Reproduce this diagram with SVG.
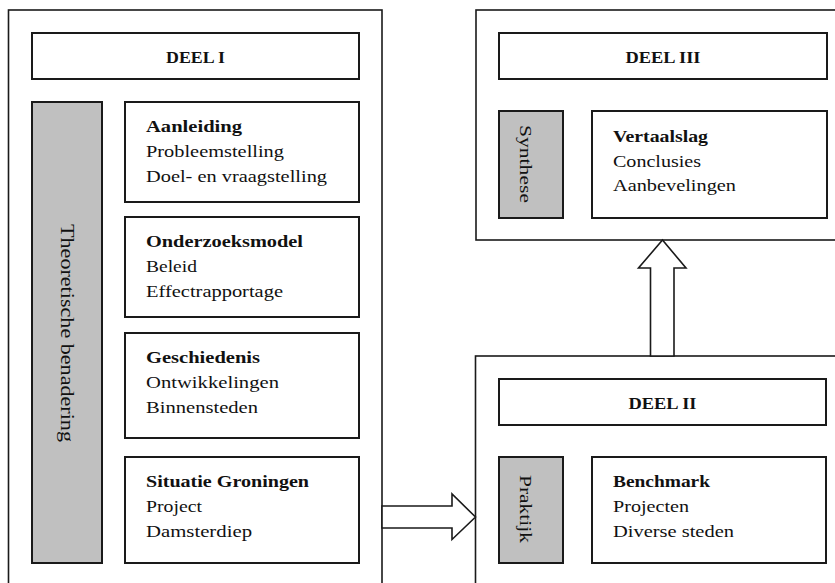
<svg xmlns="http://www.w3.org/2000/svg" width="835" height="583" viewBox="0 0 835 583">
<style>
.panel{fill:#fff;stroke:#1a1a1a;stroke-width:1.6}
.box{fill:#fff;stroke:#1a1a1a;stroke-width:2}
.gray{fill:#c0c0c0;stroke:#1a1a1a;stroke-width:2}
.arrow{fill:#fff;stroke:#1a1a1a;stroke-width:1.6;stroke-linejoin:miter}
text{font-family:"Liberation Serif","Times New Roman",serif;font-size:17px;fill:#111}
.b{font-weight:bold}
.c{text-anchor:middle}
</style>
<rect width="835" height="583" fill="#fff"/>
<g id="deel1">
<rect class="panel" x="8.5" y="10" width="373.5" height="600"/>
<g id="deel1-title"><rect class="box" x="32" y="33" width="327" height="46"/><text class="b c" x="195.5" y="63" textLength="59" lengthAdjust="spacingAndGlyphs">DEEL I</text></g>
<g id="theoretische"><rect class="gray" x="32" y="102" width="70" height="461"/><text class="c" transform="translate(61,333) rotate(90)" x="0" y="0" style="font-size:19px" textLength="218" lengthAdjust="spacingAndGlyphs">Theoretische benadering</text></g>
<g id="aanleiding"><rect class="box" x="125" y="102" width="234" height="100"/>
<text class="b" x="146" y="132" textLength="96" lengthAdjust="spacingAndGlyphs">Aanleiding</text>
<text x="146" y="157" textLength="138" lengthAdjust="spacingAndGlyphs">Probleemstelling</text>
<text x="146" y="182" textLength="181" lengthAdjust="spacingAndGlyphs">Doel- en vraagstelling</text></g>
<g id="onderzoeksmodel"><rect class="box" x="125" y="217" width="234" height="100"/>
<text class="b" x="146" y="247" textLength="157" lengthAdjust="spacingAndGlyphs">Onderzoeksmodel</text>
<text x="146" y="272" textLength="51" lengthAdjust="spacingAndGlyphs">Beleid</text>
<text x="146" y="297" textLength="137" lengthAdjust="spacingAndGlyphs">Effectrapportage</text></g>
<g id="geschiedenis"><rect class="box" x="125" y="333" width="234" height="105"/>
<text class="b" x="146" y="363" textLength="114" lengthAdjust="spacingAndGlyphs">Geschiedenis</text>
<text x="146" y="388" textLength="133" lengthAdjust="spacingAndGlyphs">Ontwikkelingen</text>
<text x="146" y="413" textLength="112" lengthAdjust="spacingAndGlyphs">Binnensteden</text></g>
<g id="situatie"><rect class="box" x="125" y="457" width="234" height="106"/>
<text class="b" x="146" y="487" textLength="163" lengthAdjust="spacingAndGlyphs">Situatie Groningen</text>
<text x="146" y="512" textLength="56" lengthAdjust="spacingAndGlyphs">Project</text>
<text x="146" y="536.5" textLength="106" lengthAdjust="spacingAndGlyphs">Damsterdiep</text></g>
</g>
<g id="deel3">
<rect class="panel" x="476" y="10" width="400" height="230"/>
<g id="deel3-title"><rect class="box" x="499" y="33" width="328" height="46"/><text class="b c" x="663" y="63" textLength="75" lengthAdjust="spacingAndGlyphs">DEEL III</text></g>
<g id="synthese"><rect class="gray" x="499" y="111" width="64" height="107"/><text class="c" transform="translate(520,164) rotate(90)" x="0" y="0" textLength="78" lengthAdjust="spacingAndGlyphs">Synthese</text></g>
<g id="vertaalslag"><rect class="box" x="592" y="111" width="235" height="107"/>
<text class="b" x="613" y="141.5" textLength="95" lengthAdjust="spacingAndGlyphs">Vertaalslag</text>
<text x="613" y="166.5" textLength="88" lengthAdjust="spacingAndGlyphs">Conclusies</text>
<text x="613" y="191" textLength="123" lengthAdjust="spacingAndGlyphs">Aanbevelingen</text></g>
</g>
<g id="deel2">
<rect class="panel" x="475.5" y="356" width="400" height="300"/>
<g id="deel2-title"><rect class="box" x="499" y="379" width="327" height="46"/><text class="b c" x="662.5" y="409" textLength="68" lengthAdjust="spacingAndGlyphs">DEEL II</text></g>
<g id="praktijk"><rect class="gray" x="499" y="457" width="64" height="106"/><text class="c" transform="translate(520,509) rotate(90)" x="0" y="0" textLength="68" lengthAdjust="spacingAndGlyphs">Praktijk</text></g>
<g id="benchmark"><rect class="box" x="592" y="457" width="234" height="106"/>
<text class="b" x="613" y="487" textLength="97" lengthAdjust="spacingAndGlyphs">Benchmark</text>
<text x="613" y="512" textLength="76" lengthAdjust="spacingAndGlyphs">Projecten</text>
<text x="613" y="537" textLength="121" lengthAdjust="spacingAndGlyphs">Diverse steden</text></g>
</g>
<g id="connectors">
<polygon class="arrow" points="382,506 452,506 452,494 475.5,517 452,539.5 452,528 382,528"/>
<polygon class="arrow" points="650.5,356 650.5,268 638.5,268 662.5,240 686,268 674,268 674,356"/>
</g>
</svg>
